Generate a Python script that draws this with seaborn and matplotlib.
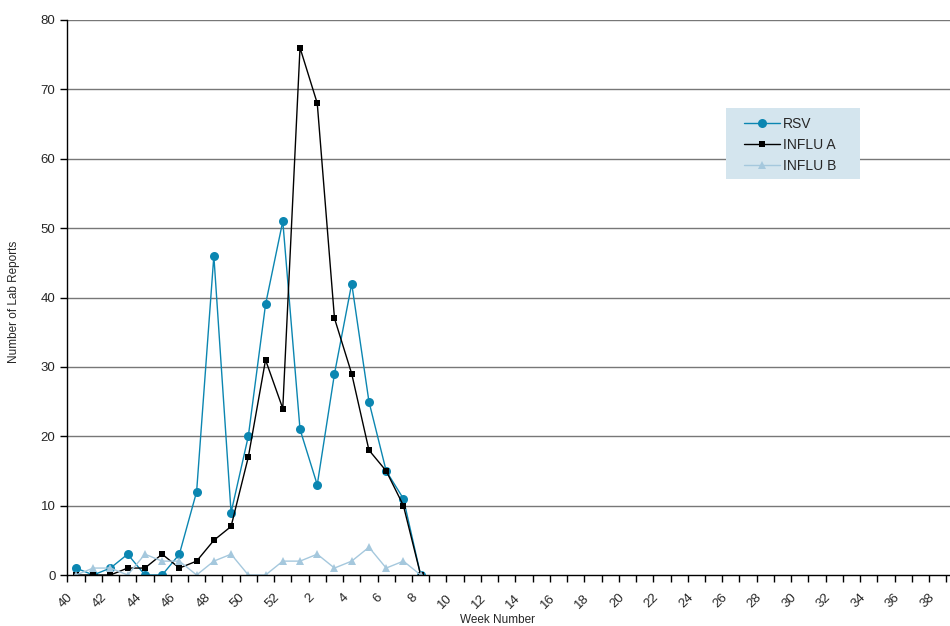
import matplotlib
matplotlib.use("Agg")
import matplotlib.pyplot as plt
from matplotlib.patches import Rectangle
import seaborn as sns
import numpy as np
import pandas as pd

weeks = list(range(40, 53)) + list(range(1, 40))
rsv = [1, 0, 1, 3, 0, 0, 3, 12, 46, 9, 20, 39, 51, 21, 13, 29, 42, 25, 15, 11, 0]
influ_a = [0, 0, 0, 1, 1, 3, 1, 2, 5, 7, 17, 31, 24, 76, 68, 37, 29, 18, 15, 10, 0]
influ_b = [0, 1, 1, 0, 3, 2, 2, 0, 2, 3, 0, 0, 2, 2, 3, 1, 2, 4, 1, 2, 0]
series_names = ["RSV", "INFLU A", "INFLU B"]
y_ticks = [0, 10, 20, 30, 40, 50, 60, 70, 80]

sns.set_theme(style="white")
plt.rcParams["font.family"] = ["Liberation Sans", "DejaVu Sans"]

W, H = 950, 626
fig = plt.figure(figsize=(W / 100, H / 100), dpi=100)
ax_left, ax_w = 66.5, 897.0
ax = fig.add_axes([ax_left / W, 51 / H, ax_w / W, 555 / H])

rows = []
for name, vals in zip(series_names, [rsv, influ_a, influ_b]):
    for i, v in enumerate(vals):
        rows.append({"pos": i, "week": weeks[i], "value": v, "series": name})
df = pd.DataFrame(rows)

colors = {"RSV": "#0b86b1", "INFLU A": "#000000", "INFLU B": "#a5c8dd"}
markers = {"RSV": "o", "INFLU A": "s", "INFLU B": "^"}
msize = {"RSV": 6.5, "INFLU A": 4.3, "INFLU B": 6}

for name in series_names:
    sub = df[df["series"] == name]
    sns.lineplot(data=sub, x="pos", y="value", ax=ax, color=colors[name],
                 marker=markers[name], markersize=msize[name],
                 markeredgewidth=0, linewidth=1.0, label=name, zorder=3)

ax.set_xlim(-0.5, len(weeks) - 0.5)
ax.set_ylim(0, 80)
ax.set_yticks(y_ticks)
ax.set_yticklabels([str(t) for t in y_ticks], fontsize=9.5)
for t in y_ticks[1:]:
    ax.axhline(t, color="#777777", linewidth=1.0, zorder=1)

major = list(range(0, len(weeks), 2))
ax.set_xticks([i - 0.55 for i in major])
ax.set_xticklabels([str(weeks[i]) for i in major], rotation=45, ha="right",
                   rotation_mode="anchor", fontsize=9.5)
ax.set_xticks(np.arange(-0.5, len(weeks) + 0.5, 1), minor=True)
ax.tick_params(axis="x", which="major", length=0, pad=12)
ax.tick_params(axis="x", which="minor", length=5, width=1, color="black",
               direction="out", bottom=True)
ax.tick_params(axis="y", which="major", length=5, width=1, color="black",
               direction="out", left=True, pad=3)

for s in ["top", "right"]:
    ax.spines[s].set_visible(False)
for s in ["left", "bottom"]:
    ax.spines[s].set_color("black")
    ax.spines[s].set_linewidth(1.0)
    ax.spines[s].set_zorder(4)

ax.set_xlabel("Week Number", fontsize=8.5)
ax.xaxis.set_label_coords((497 - ax_left) / ax_w, -(614 - 575) / 555)
ax.set_ylabel("Number of Lab Reports", fontsize=8.5)
ax.yaxis.set_label_coords((20 - ax_left) / ax_w, (575 - 302) / 555)

# legend background box
bg = Rectangle((726 / W, (H - 179) / H), 134 / W, 71 / H,
               transform=fig.transFigure, facecolor="#d4e5ee",
               edgecolor="none", zorder=4, clip_on=False)
ax.add_patch(bg)
leg = ax.legend(loc="upper left", bbox_to_anchor=(734 / W, (H - 107) / H),
                bbox_transform=fig.transFigure, frameon=False,
                fontsize=10, handlelength=2.6, borderpad=0.2, labelspacing=0.5,
                handletextpad=0.2)
leg.set_zorder(6)

fig.savefig("out.png", dpi=100)
